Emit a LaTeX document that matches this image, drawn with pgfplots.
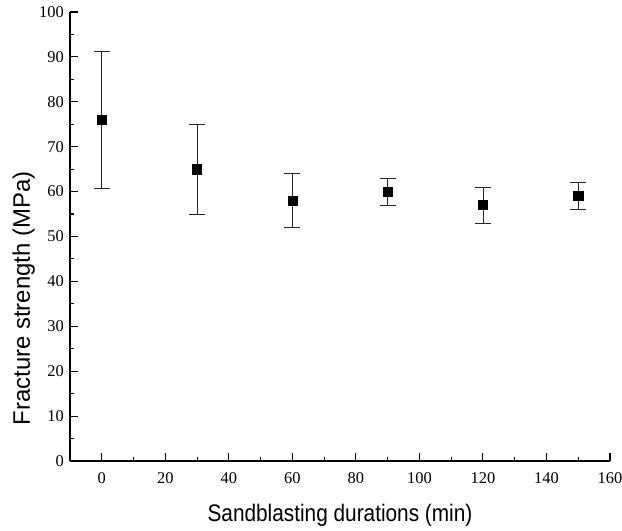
\documentclass[border=0pt]{standalone}
\usepackage{fontspec}
\setmainfont{Liberation Serif}
\newfontfamily\arial{Liberation Sans}
\usepackage{graphicx}
\usepackage{pgfplots}
\pgfplotsset{compat=1.18}
\begin{document}
\begin{tikzpicture}
\begin{axis}[
  at={(70bp,70bp)}, anchor=south west,
  scale only axis,
  width=540bp, height=449bp,
  xmin=-10, xmax=160, ymin=0, ymax=100,
  axis x line=bottom, axis y line=left,
  axis line style={-, line width=1.5pt},
  xtick={0,20,...,160}, ytick={0,10,...,100},
  minor xtick={10,30,...,150}, minor ytick={5,15,...,95},
  tick align=inside,
  major tick length=8bp, minor tick length=4bp,
  every tick/.style={black, line width=1.1pt},
  tick label style={font=\fontsize{16.5}{19}\selectfont, inner sep=0pt},
  /pgf/number format/assume math mode=true,
  yticklabel style={anchor=east, xshift=-6bp},
  xticklabel style={anchor=north, yshift=-11bp},
  every axis x label/.style={at={(rel axis cs:0.5,0)}, yshift=-60bp, anchor=base},
  every axis y label/.style={at={(rel axis cs:0,0.362)}, xshift=-40bp, rotate=90, anchor=base},
  xlabel={\arial\fontsize{24}{28}\selectfont\scalebox{0.87}[1]{Sandblasting durations (min)}},
  ylabel={\arial\fontsize{24}{28}\selectfont Fracture strength (MPa)},
  clip=false,
]
\addplot[only marks, mark=square*, mark size=4.6bp, black,
  error bars/.cd, y dir=both, y explicit,
  error bar style={line width=0.8pt, black!85},
  error mark options={rotate=90, mark size=8bp, line width=0.8pt, black!85}]
  coordinates {
  (0,76) +- (0,15.3)
  (30,65) +- (0,10)
  (60,58) +- (0,6)
  (90,60) +- (0,3)
  (120,57) +- (0,4)
  (150,59) +- (0,3)
};
\end{axis}
\pgfresetboundingbox
\path[use as bounding box] (0,0) rectangle (622bp,531bp);
\end{tikzpicture}
\end{document}
